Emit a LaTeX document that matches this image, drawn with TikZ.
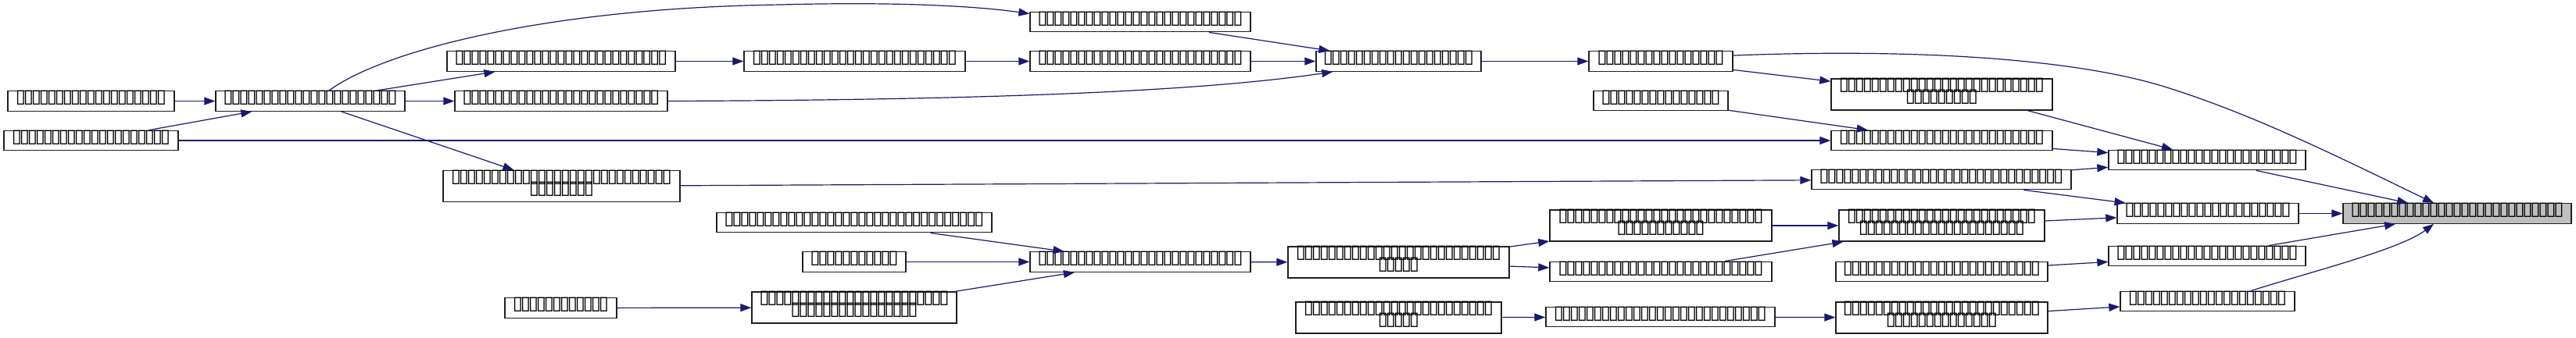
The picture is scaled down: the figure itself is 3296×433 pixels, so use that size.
\documentclass[tikz,border=0pt]{standalone}
\usepackage{fontspec}
\newfontfamily\tofufont{DejaVu Sans}
\usetikzlibrary{arrows.meta,calc}
\definecolor{edgeblue}{HTML}{191970}
\definecolor{targetgray}{HTML}{BFBFBF}
\definecolor{borderc}{HTML}{202020}
\newcommand\tofuglyph{\makebox[5pt]{▯}}
\ExplSyntaxOn
\cs_new:Npn \tofus #1 { \prg_replicate:nn {#1} { \tofuglyph } }
\ExplSyntaxOff
\newcommand\one[1]{\raisebox{2pt}[\height][\depth]{\tofus{#1}}}
\newcommand\two[2]{\raisebox{2pt}[\height][\depth]{\vbox{\baselineskip=7.5pt\lineskiplimit=-10pt\halign{\hfil##\hfil\cr\tofus{#1}\cr\tofus{#2}\cr}}}}
\begin{document}
\begin{tikzpicture}[x=0.5pt,y=-0.5pt,
  nd/.style={draw=borderc, line width=0.7pt, fill=white, inner sep=0pt,
    minimum height=12.75pt, font=\tofufont\fontsize{12}{7.5}\selectfont},
  twoline/.style={minimum height=20pt},
  target/.style={fill=targetgray},
  ed/.style={draw=edgeblue, line width=0.6pt, -{Triangle[length=7pt,width=5pt]}}]
\fill[white] (0,0) rectangle (3296,433);
\useasboundingbox (0,0) rectangle (3296,433);
% nodes
\node[nd, minimum width=141pt] (A) at (1459,28) {\one{26}};
\node[nd, minimum width=105.5pt] (B) at (1789.5,78.5) {\one{19}};
\node[nd, minimum width=92pt] (C) at (2125,78.5) {\one{16}};
\node[nd, minimum width=146pt] (D) at (718,78.5) {\one{27}};
\node[nd, minimum width=141.5pt] (E) at (1093.5,78.5) {\one{26}};
\node[nd, minimum width=141pt] (F) at (1459,78.5) {\one{26}};
\node[nd, minimum width=106.5pt] (G) at (116.5,129.5) {\one{19}};
\node[nd, minimum width=121pt] (H) at (397,129.5) {\one{22}};
\node[nd, minimum width=136pt] (I) at (718,129.5) {\one{25}};
\node[nd, twoline, minimum width=141.5pt] (J) at (2484.5,121) {\two{26}{9}};
\node[nd, minimum width=86pt] (K) at (2125,129) {\one{15}};
\node[nd, minimum width=111.5pt] (L) at (116.5,180) {\one{20}};
\node[nd, minimum width=141.5pt] (M) at (2484.5,180) {\one{26}};
\node[nd, minimum width=126pt] (N) at (2824,205) {\one{23}};
\node[nd, twoline, minimum width=151.5pt] (O) at (718.5,238.5) {\two{28}{8}};
\node[nd, minimum width=166pt] (P) at (2484,230) {\one{31}};
\node[nd, target, minimum width=146pt] (Q) at (3144,273.5) {\one{27}};
\node[nd, minimum width=116pt] (R) at (2825,273.5) {\one{21}};
\node[nd, minimum width=176pt] (S) at (1093,285) {\one{33}};
\node[nd, twoline, minimum width=142pt] (T) at (2125,289) {\two{26}{11}};
\node[nd, twoline, minimum width=131.5pt] (U) at (2484.5,289) {\two{24}{21}};
\node[nd, minimum width=66pt] (V) at (1093,335.5) {\one{11}};
\node[nd, minimum width=141pt] (W) at (1459,335.5) {\one{26}};
\node[nd, twoline, minimum width=141.5pt] (X) at (1789.5,336) {\two{26}{5}};
\node[nd, minimum width=142pt] (Y) at (2125,348) {\one{26}};
\node[nd, minimum width=126pt] (Z) at (2824,328) {\one{23}};
\node[nd, minimum width=135.5pt] (AA) at (2484.5,348) {\one{25}};
\node[nd, minimum width=71.5pt] (AB) at (717.5,394.5) {\one{12}};
\node[nd, twoline, minimum width=131pt] (AC) at (1093,394) {\two{24}{16}};
\node[nd, minimum width=111.5pt] (AD) at (2824.5,386) {\one{20}};
\node[nd, twoline, minimum width=131.5pt] (AE) at (1789.5,407) {\two{24}{5}};
\node[nd, minimum width=146.5pt] (AF) at (2124.5,406) {\one{27}};
\node[nd, twoline, minimum width=135.5pt] (AG) at (2484.5,407) {\two{25}{14}};
% edges
\draw[ed] (G) -- (H);
\draw[ed] (L) -- (H);
\draw[ed] (H) -- (D);
\draw[ed] (H) -- (I);
\draw[ed] (H) -- (O);
\draw[ed] ($(H.north)+(24,0)$) .. controls (490,65) and (700,10) .. (1000,6)
  .. controls (1150,2) and (1250,8) .. ($(A.north west)+(0,3)$);
\draw[ed] (D) -- (E);
\draw[ed] (E) -- (F);
\draw[ed] (F) -- (B);
\draw[ed] (A) -- (B);
\draw[ed] (I.east) .. controls (1300,128) and (1550,115) .. ($(B.south west)+(22,0)$);
\draw[ed] (B) -- (C);
\draw[ed] (C) -- (J);
\draw[ed] ($(C.north east)+(0,6)$) .. controls (2450,62) and (2650,75) .. (2766,110)
  .. controls (2880,145) and (2990,200) .. ($(Q.north)+(-30,0)$);
\draw[ed] (K) -- (M);
\draw[ed] (L) -- (M);
\draw[ed] ($(J.south)+(110,0)$) -- ($(N.north)+(-44,0)$);
\draw[ed] (M) -- (N);
\draw[ed] (P) -- (N);
\draw[ed] (N) -- (Q);
\draw[ed] (O) -- (P);
\draw[ed] (P) -- (R);
\draw[ed] (U) -- (R);
\draw[ed] (R) -- (Q);
\draw[ed] (Z) -- (Q);
\draw[ed] (AA) -- (Z);
\draw[ed] ($(AD.north)+(55.5,0)$) .. controls (2950,350) and (3070,320) .. ($(Q.south)+(-30,0)$);
\draw[ed] (AG) -- (AD);
\draw[ed] (AF) -- (AG);
\draw[ed] (AE) -- (AF);
\draw[ed] (T) -- (U);
\draw[ed] (Y) -- (U);
\draw[ed] (X) -- (T);
\draw[ed] (X) -- (Y);
\draw[ed] (W) -- (X);
\draw[ed] (S) -- (W);
\draw[ed] (V) -- (W);
\draw[ed] (AC) -- (W);
\draw[ed] (AB) -- (AC);
\end{tikzpicture}
\end{document}
